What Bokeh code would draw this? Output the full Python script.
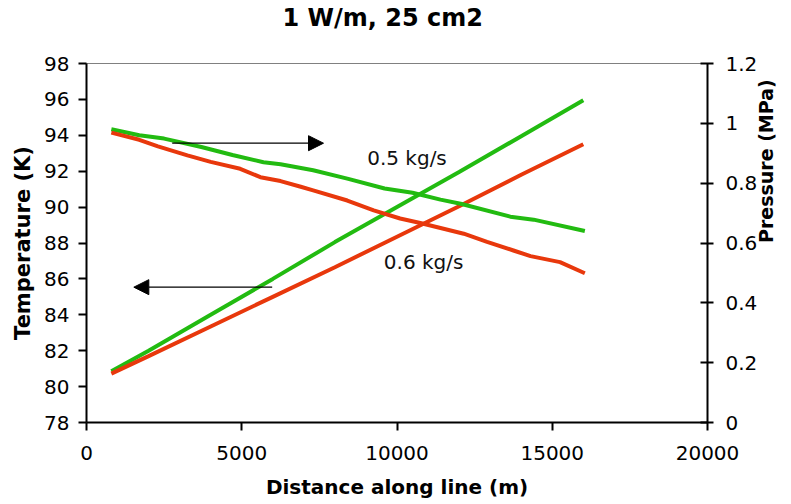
import math
from bokeh.plotting import figure
from bokeh.models import Range1d, LinearAxis, FixedTicker, Arrow, NormalHead, Label, CustomJSTickFormatter, Title
from bokeh.embed import file_html
from bokeh.resources import INLINE

# Temperature (K) vs distance (m)
temp_dist = [800, 2000, 4000, 6000, 8000, 10000, 12000, 14000, 16000]
temp_05 = [80.85, 82.0, 84.0, 86.0, 88.05, 90.0, 91.95, 93.95, 95.95]
temp_06 = [80.72, 81.7, 83.35, 85.0, 86.65, 88.35, 90.05, 91.8, 93.5]

# Pressure (MPa) vs distance (m)
pres05_dist = [800, 1700, 2500, 3700, 4700, 5700, 6250, 7300, 8400, 9600, 10500, 11400, 12050, 13650, 14400, 16050]
pres_05 = [0.980, 0.960, 0.949, 0.921, 0.894, 0.870, 0.863, 0.843, 0.815, 0.782, 0.768, 0.745, 0.731, 0.688, 0.678, 0.640]
pres06_dist = [800, 1700, 2300, 3250, 4000, 4950, 5600, 6250, 6900, 7300, 8400, 9250, 10100, 10750, 12150, 12900, 13750, 14300, 15250, 16050]
pres_06 = [0.969, 0.945, 0.923, 0.893, 0.871, 0.848, 0.820, 0.807, 0.788, 0.776, 0.742, 0.709, 0.682, 0.667, 0.631, 0.604, 0.575, 0.556, 0.536, 0.499]

x_ticks = [0, 5000, 10000, 15000, 20000]
t_ticks = [78, 80, 82, 84, 86, 88, 90, 92, 94, 96, 98]
p_ticks = [0, 0.2, 0.4, 0.6, 0.8, 1.0, 1.2]

title_text = "1 W/m, 25 cm2"
label_05 = "0.5 kg/s"
label_06 = "0.6 kg/s"

GREEN = "#22BB11"
RED = "#E8380C"
FONT = "DejaVu Sans"

p = figure(width=791, height=504, output_backend="svg", toolbar_location=None,
           x_range=Range1d(0, 20000), y_range=Range1d(78, 98),
           min_border_left=86, min_border_right=84, min_border_top=63, min_border_bottom=82)
p.title = None

# spacer (nearest the frame) then the real title above it
p.add_layout(Title(text=" ", text_font_size="1px", standoff=27, text_color="white"), "above")
p.add_layout(Title(text=title_text, align="left", offset=196, vertical_align="top", standoff=0,
                   text_font=FONT, text_font_size="24px", text_font_style="bold",
                   text_color="black"), "above")

p.extra_y_ranges = {"p": Range1d(0, 1.2)}
p.xgrid.visible = False
p.ygrid.visible = False
p.outline_line_color = "#808080"
p.outline_line_width = 1
p.background_fill_color = "white"
p.border_fill_color = "white"

def style_axis(ax, out, inn, standoff, label_standoff, label_size):
    ax.axis_line_color = "black"
    ax.axis_line_width = 2
    ax.major_tick_line_color = "black"
    ax.major_tick_line_width = 2
    ax.major_tick_out = out
    ax.major_tick_in = inn
    ax.minor_tick_line_color = None
    ax.major_label_text_font = FONT
    ax.major_label_text_font_size = "20px"
    ax.major_label_text_color = "black"
    ax.major_label_standoff = standoff
    ax.axis_label_text_font = FONT
    ax.axis_label_text_font_size = label_size
    ax.axis_label_text_font_style = "bold"
    ax.axis_label_text_color = "black"
    ax.axis_label_standoff = label_standoff

xa = p.xaxis[0]
xa.ticker = FixedTicker(ticks=x_ticks)
xa.axis_label = "Distance along line (m)"
style_axis(xa, 8, 0, 15, 12, "20px")

ya = p.yaxis[0]
ya.ticker = FixedTicker(ticks=t_ticks)
ya.axis_label = "Temperature (K)"
style_axis(ya, 8, 0, 9, 6, "21px")

ra = LinearAxis(y_range_name="p", axis_label="Pressure (MPa)")
ra.ticker = FixedTicker(ticks=p_ticks)
ra.formatter = CustomJSTickFormatter(code="return Number(tick.toFixed(1)).toString();")
style_axis(ra, 6, 7, 12, 6, "19px")
ra.axis_label_orientation = math.pi / 2
p.add_layout(ra, "right")

# Temperature lines
p.line(temp_dist, temp_05, line_color=GREEN, line_width=4)
p.line(temp_dist, temp_06, line_color=RED, line_width=4)
# Pressure lines
p.line(pres05_dist, pres_05, line_color=GREEN, line_width=4, y_range_name="p")
p.line(pres06_dist, pres_06, line_color=RED, line_width=4, y_range_name="p")

# Arrows
p.add_layout(Arrow(x_start=2760, y_start=93.56, x_end=7633, y_end=93.56, line_width=1.3, line_color="black",
                   end=NormalHead(size=15, fill_color="black", line_color="black")))
p.add_layout(Arrow(x_start=5980, y_start=85.54, x_end=1524, y_end=85.54, line_width=1.3, line_color="black",
                   end=NormalHead(size=15, fill_color="black", line_color="black")))

p.add_layout(Label(x=9040, y=92.71, text=label_05, text_font=FONT, text_font_size="20px",
                   text_baseline="middle", text_align="left", text_color="#111111"))
p.add_layout(Label(x=9575, y=86.93, text=label_06, text_font=FONT, text_font_size="20px",
                   text_baseline="middle", text_align="left", text_color="#111111"))

open("out.html", "w").write(file_html(p, INLINE))
